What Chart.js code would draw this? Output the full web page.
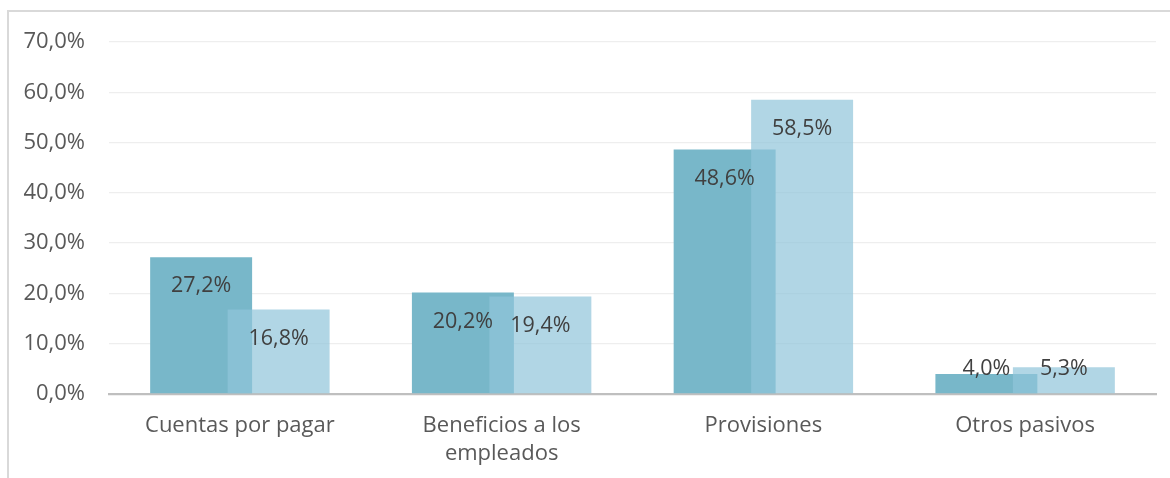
<!DOCTYPE html>
<html>
<head>
<meta charset="utf-8">
<script src="https://cdn.jsdelivr.net/npm/chart.js@4.4.0/dist/chart.umd.min.js"></script>
<style>
  html, body { margin: 0; padding: 0; background: #fff; overflow: hidden; }
  #frame { position: absolute; left: 7px; top: 10px; width: 1300px; height: 600px; border: 2px solid #d9d9d9; }
  #wrap { position: absolute; left: 0; top: 0; width: 1170px; height: 478px; }
</style>
</head>
<body>
<div id="frame"></div>
<div id="wrap"><canvas id="chart" width="1170" height="478"></canvas></div>
<script>
const categories = ["Cuentas por pagar", ["Beneficios a los", "empleados"], "Provisiones", "Otros pasivos"];
const serieA = [27.2, 20.2, 48.6, 4.0];
const serieB = [16.8, 19.4, 58.5, 5.3];
const yTicks = [0, 10, 20, 30, 40, 50, 60, 70];

const fmt = v => v.toFixed(1).replace('.', ',') + '%';
const fontFamily = "'Open Sans', 'Noto Sans', sans-serif";

// draw datasets in index order so the second series sits on top
const drawInOrder = {
    id: 'drawInOrder',
    beforeDatasetsDraw(chart) {
        chart.data.datasets.forEach((d, i) => chart.getDatasetMeta(i).controller.draw());
        return false;
    }
};

const barLabels = {
    id: 'barLabels',
    afterDraw(chart) {
        const ctx = chart.ctx;
        ctx.save();
        ctx.font = "21.5px " + fontFamily;
        ctx.fillStyle = '#404040';
        ctx.textAlign = 'center';
        ctx.textBaseline = 'middle';
        chart.data.datasets.forEach((d, i) => {
            chart.getDatasetMeta(i).data.forEach((el, j) => {
                const y = Math.min(el.y + 29, el.base - 24);
                ctx.fillText(fmt(d.data[j]), el.x, y);
            });
        });
        ctx.restore();
    }
};

new Chart(document.getElementById('chart').getContext('2d'), {
    type: 'bar',
    data: {
        labels: categories,
        datasets: [{
            data: serieA,
            backgroundColor: '#78b7c9',
            categoryPercentage: 0.592,
            barPercentage: 1.316
        }, {
            data: serieB,
            backgroundColor: 'rgba(144,197,218,0.7)',
            categoryPercentage: 0.592,
            barPercentage: 1.316
        }]
    },
    options: {
        responsive: false,
        animation: false,
        layout: { padding: { top: 42, right: 14, bottom: 0, left: 0 } },
        scales: {
            y: {
                min: 0,
                max: 70,
                afterBuildTicks: s => { s.ticks = yTicks.map(v => ({ value: v })); },
                afterFit: s => { s.width = 109; },
                ticks: {
                    padding: 24,
                    color: '#595959',
                    font: { family: fontFamily, size: 22 },
                    callback: v => fmt(v)
                },
                grid: { color: '#eeeeee', lineWidth: 1.3, drawTicks: false },
                border: { display: false }
            },
            x: {
                afterFit: s => { s.height = 84; },
                ticks: {
                    padding: 10,
                    color: '#595959',
                    font: { family: fontFamily, size: 22, lineHeight: 1.27 }
                },
                grid: { display: false },
                border: { color: '#bfbfbf', width: 2.3 }
            }
        },
        plugins: {
            legend: { display: false },
            tooltip: { enabled: false }
        }
    },
    plugins: [drawInOrder, barLabels]
});
</script>
</body>
</html>
